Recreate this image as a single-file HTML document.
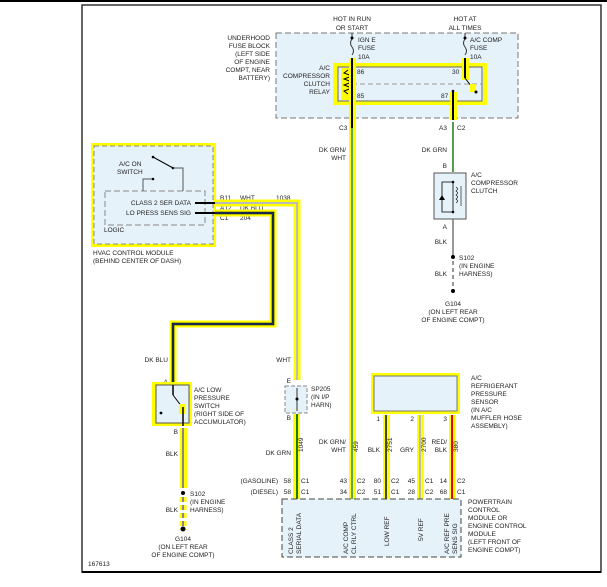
<!DOCTYPE html>
<html><head><meta charset="utf-8"><style>
html,body{margin:0;padding:0;background:#fff}
svg{display:block}
text{font-family:"Liberation Sans",sans-serif;font-size:6.5px;fill:#222}
</style></head><body>
<svg width="607" height="587" viewBox="0 0 607 587" xmlns="http://www.w3.org/2000/svg">
<line x1="0" y1="1" x2="607" y2="1" stroke="#000" stroke-width="2"/>
<rect x="82" y="5" width="519" height="567" fill="none" stroke="#333" stroke-width="1.5"/>
<line x1="82" y1="572" x2="601" y2="572" stroke="#000" stroke-width="2"/>

<!-- fuse block -->
<rect x="276" y="33" width="242" height="85" fill="#e6f2fa" stroke="#777" stroke-dasharray="6,3"/>
<text x="270" y="40" text-anchor="end">UNDERHOOD</text>
<text x="270" y="48" text-anchor="end">FUSE BLOCK</text>
<text x="270" y="56" text-anchor="end">(LEFT SIDE</text>
<text x="270" y="64" text-anchor="end">OF ENGINE</text>
<text x="270" y="72" text-anchor="end">COMPT, NEAR</text>
<text x="270" y="80" text-anchor="end">BATTERY)</text>
<text x="352" y="21" text-anchor="middle">HOT IN RUN</text>
<text x="352" y="30" text-anchor="middle">OR START</text>
<text x="465" y="21" text-anchor="middle">HOT AT</text>
<text x="465" y="30" text-anchor="middle">ALL TIMES</text>
<text x="358" y="42">IGN E</text><text x="358" y="50">FUSE</text><text x="358" y="59">10A</text>
<text x="470" y="42">A/C COMP</text><text x="470" y="50">FUSE</text><text x="470" y="59">10A</text>
<path d="M352 33 v6 q-3 4 0 8 q3 4 0 8" fill="none" stroke="#333"/>
<path d="M465 33 v6 q-3 4 0 8 q3 4 0 8" fill="none" stroke="#333"/>
<circle cx="352" cy="38" r="1.5" fill="#000"/><circle cx="465" cy="38" r="1.5" fill="#000"/>
<!-- relay -->
<rect x="335" y="65" width="150" height="38" fill="none" stroke="#ffff00" stroke-width="4"/>
<rect x="338" y="67" width="144" height="34" fill="#e6f2fa" stroke="#666"/>
<line x1="352" y1="84" x2="482" y2="84" stroke="#999" stroke-dasharray="5,3"/>
<text x="330" y="70" text-anchor="end">A/C</text>
<text x="330" y="78" text-anchor="end">COMPRESSOR</text>
<text x="330" y="86" text-anchor="end">CLUTCH</text>
<text x="330" y="94" text-anchor="end">RELAY</text>
<text x="357" y="74">86</text><text x="357" y="98">85</text>
<text x="452" y="74">30</text><text x="441" y="98">87</text>
<rect x="341" y="68" width="14" height="32" fill="#ffff00"/>
<path d="M348 70 l-4 3 8 3 -8 3 8 3 -8 3 8 3 -8 3 4 3" fill="none" stroke="#000" stroke-width="1"/>
<!-- wires top -->
<rect x="349" y="58" width="7" height="444" fill="#ffff00"/>
<line x1="352" y1="58" x2="352" y2="500" stroke="#000" stroke-width="2"/>
<line x1="352" y1="128" x2="352" y2="500" stroke="#1a7a1a" stroke-width="2"/>
<line x1="352" y1="128" x2="352" y2="500" stroke="#fff" stroke-width="0.6"/>
<rect x="462" y="58" width="7" height="22" fill="#ffff00"/>
<line x1="465" y1="58" x2="465" y2="78" stroke="#000" stroke-width="2"/>
<line x1="465" y1="78" x2="475" y2="91" stroke="#000"/>
<rect x="470" y="84" width="6" height="8" fill="#ffff00"/>
<circle cx="476" cy="92" r="1.5" fill="#000"/>
<rect x="450" y="92" width="7" height="28" fill="#ffff00"/>
<line x1="453" y1="91" x2="453" y2="120" stroke="#000" stroke-width="2"/>
<circle cx="453" cy="91" r="1.3" fill="#000"/>
<line x1="453" y1="122" x2="453" y2="172" stroke="#1a7a1a" stroke-width="1.5"/>
<text x="339" y="130">C3</text>
<text x="439" y="130">A3</text><text x="457" y="130">C2</text>
<text x="346" y="152" text-anchor="end">DK GRN/</text>
<text x="346" y="160" text-anchor="end">WHT</text>
<text x="447" y="152" text-anchor="end">DK GRN</text>
<text x="447" y="168" text-anchor="end">B</text>
<!-- clutch -->
<rect x="434" y="173" width="32" height="46" fill="#e6f2fa" stroke="#555"/>
<path d="M453 182 h-11 v30 h11" fill="none" stroke="#000" stroke-width="0.8"/>
<line x1="453" y1="182" x2="453" y2="212" stroke="#000" stroke-width="0.8"/>
<circle cx="453" cy="182" r="1.3" fill="#000"/><circle cx="453" cy="212" r="1.3" fill="#000"/>
<path d="M439 200 l3 -5 3 5z" fill="#000"/>
<path d="M456 187 q3 2 0 4 q3 2 0 4 q3 2 0 4 q3 2 0 4" fill="none" stroke="#000" stroke-width="0.7"/>
<line x1="461" y1="186" x2="461" y2="206" stroke="#000" stroke-width="0.6"/>
<text x="471" y="177">A/C</text><text x="471" y="185">COMPRESSOR</text><text x="471" y="193">CLUTCH</text>
<text x="447" y="229" text-anchor="end">A</text>
<line x1="453" y1="219" x2="453" y2="257" stroke="#777" stroke-width="1.5"/>
<line x1="453" y1="261" x2="453" y2="292" stroke="#777" stroke-width="1.5" stroke-dasharray="4,3"/>
<text x="447" y="244" text-anchor="end">BLK</text>
<circle cx="453" cy="257" r="2" fill="#000"/>
<text x="459" y="260">S102</text><text x="459" y="268">(IN ENGINE</text><text x="459" y="276">HARNESS)</text>
<text x="447" y="276" text-anchor="end">BLK</text>
<circle cx="453" cy="291" r="2" fill="#000"/>
<text x="453" y="306" text-anchor="middle">G104</text>
<text x="453" y="314" text-anchor="middle">(ON LEFT REAR</text>
<text x="453" y="322" text-anchor="middle">OF ENGINE COMPT)</text>

<!-- HVAC -->
<rect x="91" y="143" width="125" height="104" fill="#ffff00"/>
<rect x="94" y="146" width="119" height="98" fill="#e6f2fa" stroke="#888" stroke-dasharray="5,3"/>
<rect x="105" y="191" width="100" height="34" fill="none" stroke="#888" stroke-dasharray="6,3"/>
<text x="119" y="166">A/C ON</text><text x="117" y="174">SWITCH</text>
<line x1="153" y1="157" x2="173" y2="168" stroke="#000"/>
<circle cx="153" cy="157" r="1.3" fill="#000"/><circle cx="173" cy="168" r="1.3" fill="#000"/>
<path d="M173 168 h10 v23" fill="none" stroke="#555"/>
<path d="M153 179 h-10 v12" fill="none" stroke="#555"/>
<circle cx="153" cy="179" r="1.3" fill="#000"/>
<text x="191" y="205" text-anchor="end">CLASS 2 SER DATA</text>
<text x="191" y="215" text-anchor="end">LO PRESS SENS SIG</text>
<text x="104" y="232">LOGIC</text>
<text x="93" y="255">HVAC CONTROL MODULE</text>
<text x="93" y="263">(BEHIND CENTER OF DASH)</text>
<text x="220" y="200">B11</text><text x="240" y="200">WHT</text><text x="276" y="200">1038</text>
<text x="220" y="210">A12</text><text x="240" y="210">DK BLU</text>
<text x="220" y="220">C1</text><text x="240" y="220">204</text>
<!-- WHT wire -->
<path d="M215 203 H297 V380" fill="none" stroke="#ffff00" stroke-width="7"/>
<path d="M215 203 H297 V380" fill="none" stroke="#bbb" stroke-width="2"/>
<line x1="195" y1="203" x2="215" y2="203" stroke="#000" stroke-width="2"/>
<!-- DK BLU wire -->
<path d="M215 213 H273 V324 H173 V384" fill="none" stroke="#ffff00" stroke-width="7"/>
<path d="M215 213 H273 V324 H173 V384" fill="none" stroke="#000" stroke-width="2.5"/>
<path d="M215 213 H273 V324 H173 V384" fill="none" stroke="#2b4fa0" stroke-width="1"/>
<line x1="195" y1="213" x2="215" y2="213" stroke="#000" stroke-width="2"/>
<text x="168" y="362" text-anchor="end">DK BLU</text>
<text x="291" y="362" text-anchor="end">WHT</text>
<!-- low pressure switch -->
<text x="168" y="384" text-anchor="end">A</text>
<rect x="152" y="382" width="40" height="44" fill="#ffff00"/>
<rect x="156" y="385" width="33" height="38" fill="#e6f2fa" stroke="#555"/>
<line x1="173" y1="385" x2="173" y2="395" stroke="#000" stroke-width="1.5"/>
<line x1="173" y1="395" x2="182" y2="407" stroke="#000"/>
<rect x="179" y="404" width="6" height="10" fill="#ffff00"/>
<line x1="183" y1="407" x2="183" y2="426" stroke="#000" stroke-width="1.5"/>
<circle cx="161" cy="413" r="1.4" fill="#000"/>
<text x="194" y="392">A/C LOW</text><text x="194" y="400">PRESSURE</text><text x="194" y="408">SWITCH</text>
<text x="194" y="416">(RIGHT SIDE OF</text><text x="194" y="424">ACCUMULATOR)</text>
<text x="178" y="434" text-anchor="end">B</text>
<rect x="180" y="428" width="7" height="60" fill="#ffff00"/>
<line x1="183" y1="428" x2="183" y2="488" stroke="#888" stroke-width="2"/>
<text x="178" y="456" text-anchor="end">BLK</text>
<circle cx="183" cy="493" r="2" fill="#000"/>
<text x="190" y="496">S102</text><text x="190" y="504">(IN ENGINE</text><text x="190" y="512">HARNESS)</text>
<text x="178" y="512" text-anchor="end">BLK</text>
<line x1="183" y1="497" x2="183" y2="530" stroke="#ffff00" stroke-width="7" stroke-dasharray="5,3"/>
<line x1="183" y1="497" x2="183" y2="530" stroke="#888" stroke-width="2" stroke-dasharray="5,3"/>
<circle cx="183" cy="529" r="2.5" fill="#000"/>
<text x="183" y="541" text-anchor="middle">G104</text>
<text x="183" y="549" text-anchor="middle">(ON LEFT REAR</text>
<text x="183" y="557" text-anchor="middle">OF ENGINE COMPT)</text>
<!-- SP205 -->
<text x="291" y="383" text-anchor="end">E</text>
<rect x="285" y="386" width="22" height="27" fill="#e6f2fa" stroke="#888" stroke-dasharray="4,2"/>
<line x1="297" y1="388" x2="297" y2="411" stroke="#000" stroke-width="0.8"/>
<circle cx="297" cy="399" r="1.5" fill="#000"/>
<text x="311" y="391">SP205</text><text x="311" y="399">(IN I/P</text><text x="311" y="407">HARN)</text>
<text x="291" y="420" text-anchor="end">B</text>
<rect x="293" y="414" width="7" height="86" fill="#ffff00"/>
<line x1="297" y1="414" x2="297" y2="500" stroke="#1a7a1a" stroke-width="2"/>
<text x="291" y="455" text-anchor="end">DK GRN</text>
<text x="303" y="452" transform="rotate(-90 303 452)">1049</text>
<text x="346" y="444" text-anchor="end">DK GRN/</text>
<text x="346" y="452" text-anchor="end">WHT</text>
<text x="358" y="452" transform="rotate(-90 358 452)">459</text>
<!-- refrigerant sensor -->
<rect x="371" y="373" width="89" height="41" fill="#ffff00"/>
<rect x="374" y="376" width="83" height="35" fill="#e6f2fa" stroke="#777"/>
<text x="471" y="380">A/C</text><text x="471" y="388">REFRIGERANT</text><text x="471" y="396">PRESSURE</text>
<text x="471" y="404">SENSOR</text><text x="471" y="412">(IN A/C</text><text x="471" y="420">MUFFLER HOSE</text><text x="471" y="428">ASSEMBLY)</text>
<text x="380" y="421" text-anchor="end">1</text><text x="414" y="421" text-anchor="end">2</text><text x="447" y="421" text-anchor="end">3</text>
<rect x="383" y="415" width="7" height="85" fill="#ffff00"/>
<line x1="386" y1="415" x2="386" y2="500" stroke="#444" stroke-width="2"/>
<rect x="417" y="415" width="7" height="85" fill="#ffff00"/>
<line x1="420" y1="415" x2="420" y2="500" stroke="#bbb" stroke-width="2"/>
<rect x="449" y="415" width="7" height="85" fill="#ffff00"/>
<line x1="452" y1="415" x2="452" y2="500" stroke="#e00000" stroke-width="2"/>
<text x="380" y="452" text-anchor="end">BLK</text>
<text x="392" y="452" transform="rotate(-90 392 452)">2751</text>
<text x="414" y="452" text-anchor="end">GRY</text>
<text x="426" y="452" transform="rotate(-90 426 452)">2700</text>
<text x="447" y="444" text-anchor="end">RED/</text>
<text x="447" y="452" text-anchor="end">BLK</text>
<text x="458" y="452" transform="rotate(-90 458 452)">380</text>
<!-- connector labels -->
<text x="278" y="483" text-anchor="end">(GASOLINE)</text>
<text x="278" y="494" text-anchor="end">(DIESEL)</text>
<text x="291" y="483" text-anchor="end">58</text><text x="291" y="494" text-anchor="end">58</text>
<text x="301" y="483">C1</text><text x="301" y="494">C1</text>
<text x="347" y="483" text-anchor="end">43</text><text x="347" y="494" text-anchor="end">34</text>
<text x="357" y="483">C2</text><text x="357" y="494">C2</text>
<text x="381" y="483" text-anchor="end">80</text><text x="381" y="494" text-anchor="end">51</text>
<text x="391" y="483">C2</text><text x="391" y="494">C1</text>
<text x="415" y="483" text-anchor="end">45</text><text x="415" y="494" text-anchor="end">28</text>
<text x="425" y="483">C1</text><text x="425" y="494">C2</text>
<text x="447" y="483" text-anchor="end">14</text><text x="447" y="494" text-anchor="end">68</text>
<text x="457" y="483">C2</text><text x="457" y="494">C1</text>
<!-- PCM -->
<rect x="282" y="499" width="179" height="58" fill="#e6f2fa" stroke="#444" stroke-dasharray="6,3"/>
<text transform="translate(293 554) rotate(-90)">CLASS 2</text>
<text transform="translate(301 554) rotate(-90)">SERIAL DATA</text>
<text transform="translate(348 554) rotate(-90)">A/C COMP</text>
<text transform="translate(356 554) rotate(-90)">CL RLY CTRL</text>
<text transform="translate(389 546) rotate(-90)">LOW REF</text>
<text transform="translate(423 541) rotate(-90)">5V REF</text>
<text transform="translate(449 554) rotate(-90)">A/C REF PRE</text>
<text transform="translate(457 554) rotate(-90)">SENS SIG</text>
<text x="468" y="504">POWERTRAIN</text><text x="468" y="512">CONTROL</text><text x="468" y="520">MODULE OR</text>
<text x="468" y="528">ENGINE CONTROL</text><text x="468" y="536">MODULE</text>
<text x="468" y="544">(LEFT FRONT OF</text><text x="468" y="552">ENGINE COMPT)</text>
<text x="88" y="566">167613</text>
</svg>
</body></html>
